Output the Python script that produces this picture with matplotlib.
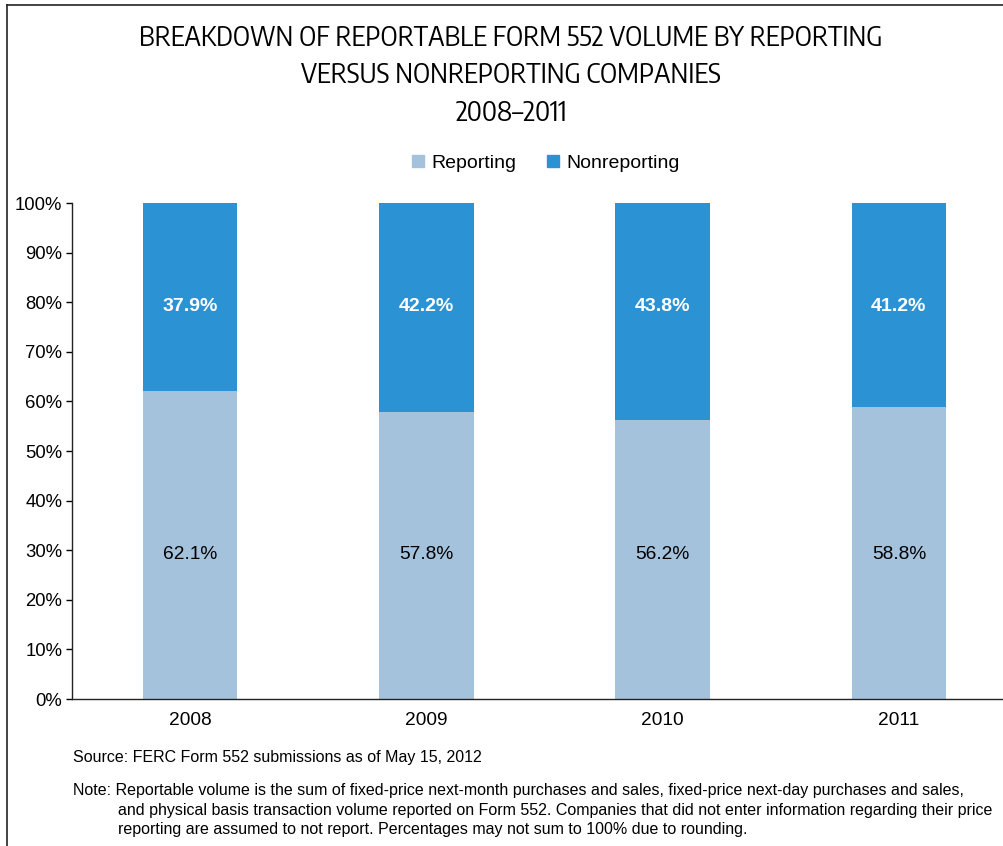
import matplotlib
matplotlib.use("Agg")
import matplotlib.pyplot as plt
from matplotlib.lines import Line2D
from matplotlib import font_manager

years = ["2008", "2009", "2010", "2011"]
reporting = [62.1, 57.8, 56.2, 58.8]
nonreporting = [37.9, 42.2, 43.8, 41.2]
series_names = ["Reporting", "Nonreporting"]
yticks = [0, 10, 20, 30, 40, 50, 60, 70, 80, 90, 100]

title_lines = ["BREAKDOWN OF REPORTABLE FORM 552 VOLUME BY REPORTING",
               "VERSUS NONREPORTING COMPANIES"]
subtitle = "2008\u20132011"
source = "Source: FERC Form 552 submissions as of May 15, 2012"
note_lines = [
    "Note: Reportable volume is the sum of fixed-price next-month purchases and sales, fixed-price next-day purchases and sales,",
    "and physical basis transaction volume reported on Form 552. Companies that did not enter information regarding their price",
    "reporting are assumed to not report. Percentages may not sum to 100% due to rounding.",
]

c_rep = "#A5C2DC"
c_non = "#2B93D4"

names = sorted({f.name for f in font_manager.fontManager.ttflist})
narrow_cands = [n for n in names if ("Narrow" in n or "Condensed" in n) and "Sans" in n and "Mono" not in n]
narrow = narrow_cands[0] if narrow_cands else "Liberation Sans"
plt.rcParams["font.family"] = ["Liberation Sans", "DejaVu Sans"]

W, H = 1004, 846
fig = plt.figure(figsize=(W / 100, H / 100), dpi=100)

# frame border (left and top visible; cropped at right/bottom)
fig.add_artist(Line2D([7 / W, 7 / W], [0, 1 - 5 / H], color="#222222", lw=1.2, transform=fig.transFigure))
fig.add_artist(Line2D([7 / W, 1], [1 - 5 / H, 1 - 5 / H], color="#222222", lw=1.2, transform=fig.transFigure))

left, right, top, bottom = 72, 1017, 203, 699
ax = fig.add_axes([left / W, 1 - bottom / H, (right - left) / W, (bottom - top) / H])

x = list(range(len(years)))
bw = 0.40
ax.bar(x, reporting, width=bw, color=c_rep, label=series_names[0], zorder=2)
ax.bar(x, nonreporting, width=bw, bottom=reporting, color=c_non, label=series_names[1], zorder=2)

for xi, r, n in zip(x, reporting, nonreporting):
    ax.text(xi, 29.2, f"{r:.1f}%", ha="center", va="center", fontsize=13.8, color="black")
    ax.text(xi, 79.2, f"{n:.1f}%", ha="center", va="center", fontsize=14, color="white", fontweight="bold")

ax.set_xlim(-0.5, 3.5)
ax.set_ylim(0, 100)
ax.set_yticks(yticks)
ax.set_yticklabels([f"{t}%" for t in yticks], fontsize=13.3)
ax.set_xticks(x)
ax.set_xticklabels(years, fontsize=13.8)
ax.tick_params(axis="x", length=0, pad=9)
ax.tick_params(axis="y", direction="out", length=4, width=1, pad=3)
for s in ["top", "right"]:
    ax.spines[s].set_visible(False)
for s in ["left", "bottom"]:
    ax.spines[s].set_linewidth(1.0)
    ax.spines[s].set_color("#222222")

# titles (fit to reference widths)
renderer = fig.canvas.get_renderer()
title_specs = [(title_lines[0], 38, 748), (title_lines[1], 75, 429), (subtitle, 113, 111)]
for txt, yc, target_w in title_specs:
    t = fig.text(511 / W, 1 - yc / H, txt, ha="center", va="center", fontsize=20, family=narrow)
    w = t.get_window_extent(renderer=renderer).width
    if w > target_w * 1.03:
        t.set_fontsize(20 * target_w / w)

# legend
handles = [Line2D([], [], marker="s", ls="none", color=c, markersize=8) for c in (c_rep, c_non)]
fig.legend(handles, series_names, loc="center", bbox_to_anchor=(546 / W, 1 - 163 / H), ncol=2,
           frameon=False, fontsize=14, handlelength=0.6, handletextpad=0.4, columnspacing=1.6)

# footnotes
fs = 11.5
fig.text(73 / W, 1 - 757 / H, source, ha="left", va="center", fontsize=fs)
fig.text(73 / W, 1 - 790 / H, note_lines[0], ha="left", va="center", fontsize=fs)
fig.text(118 / W, 1 - 810 / H, note_lines[1], ha="left", va="center", fontsize=fs)
fig.text(118 / W, 1 - 829 / H, note_lines[2], ha="left", va="center", fontsize=fs)

fig.savefig("out.png", dpi=100)
